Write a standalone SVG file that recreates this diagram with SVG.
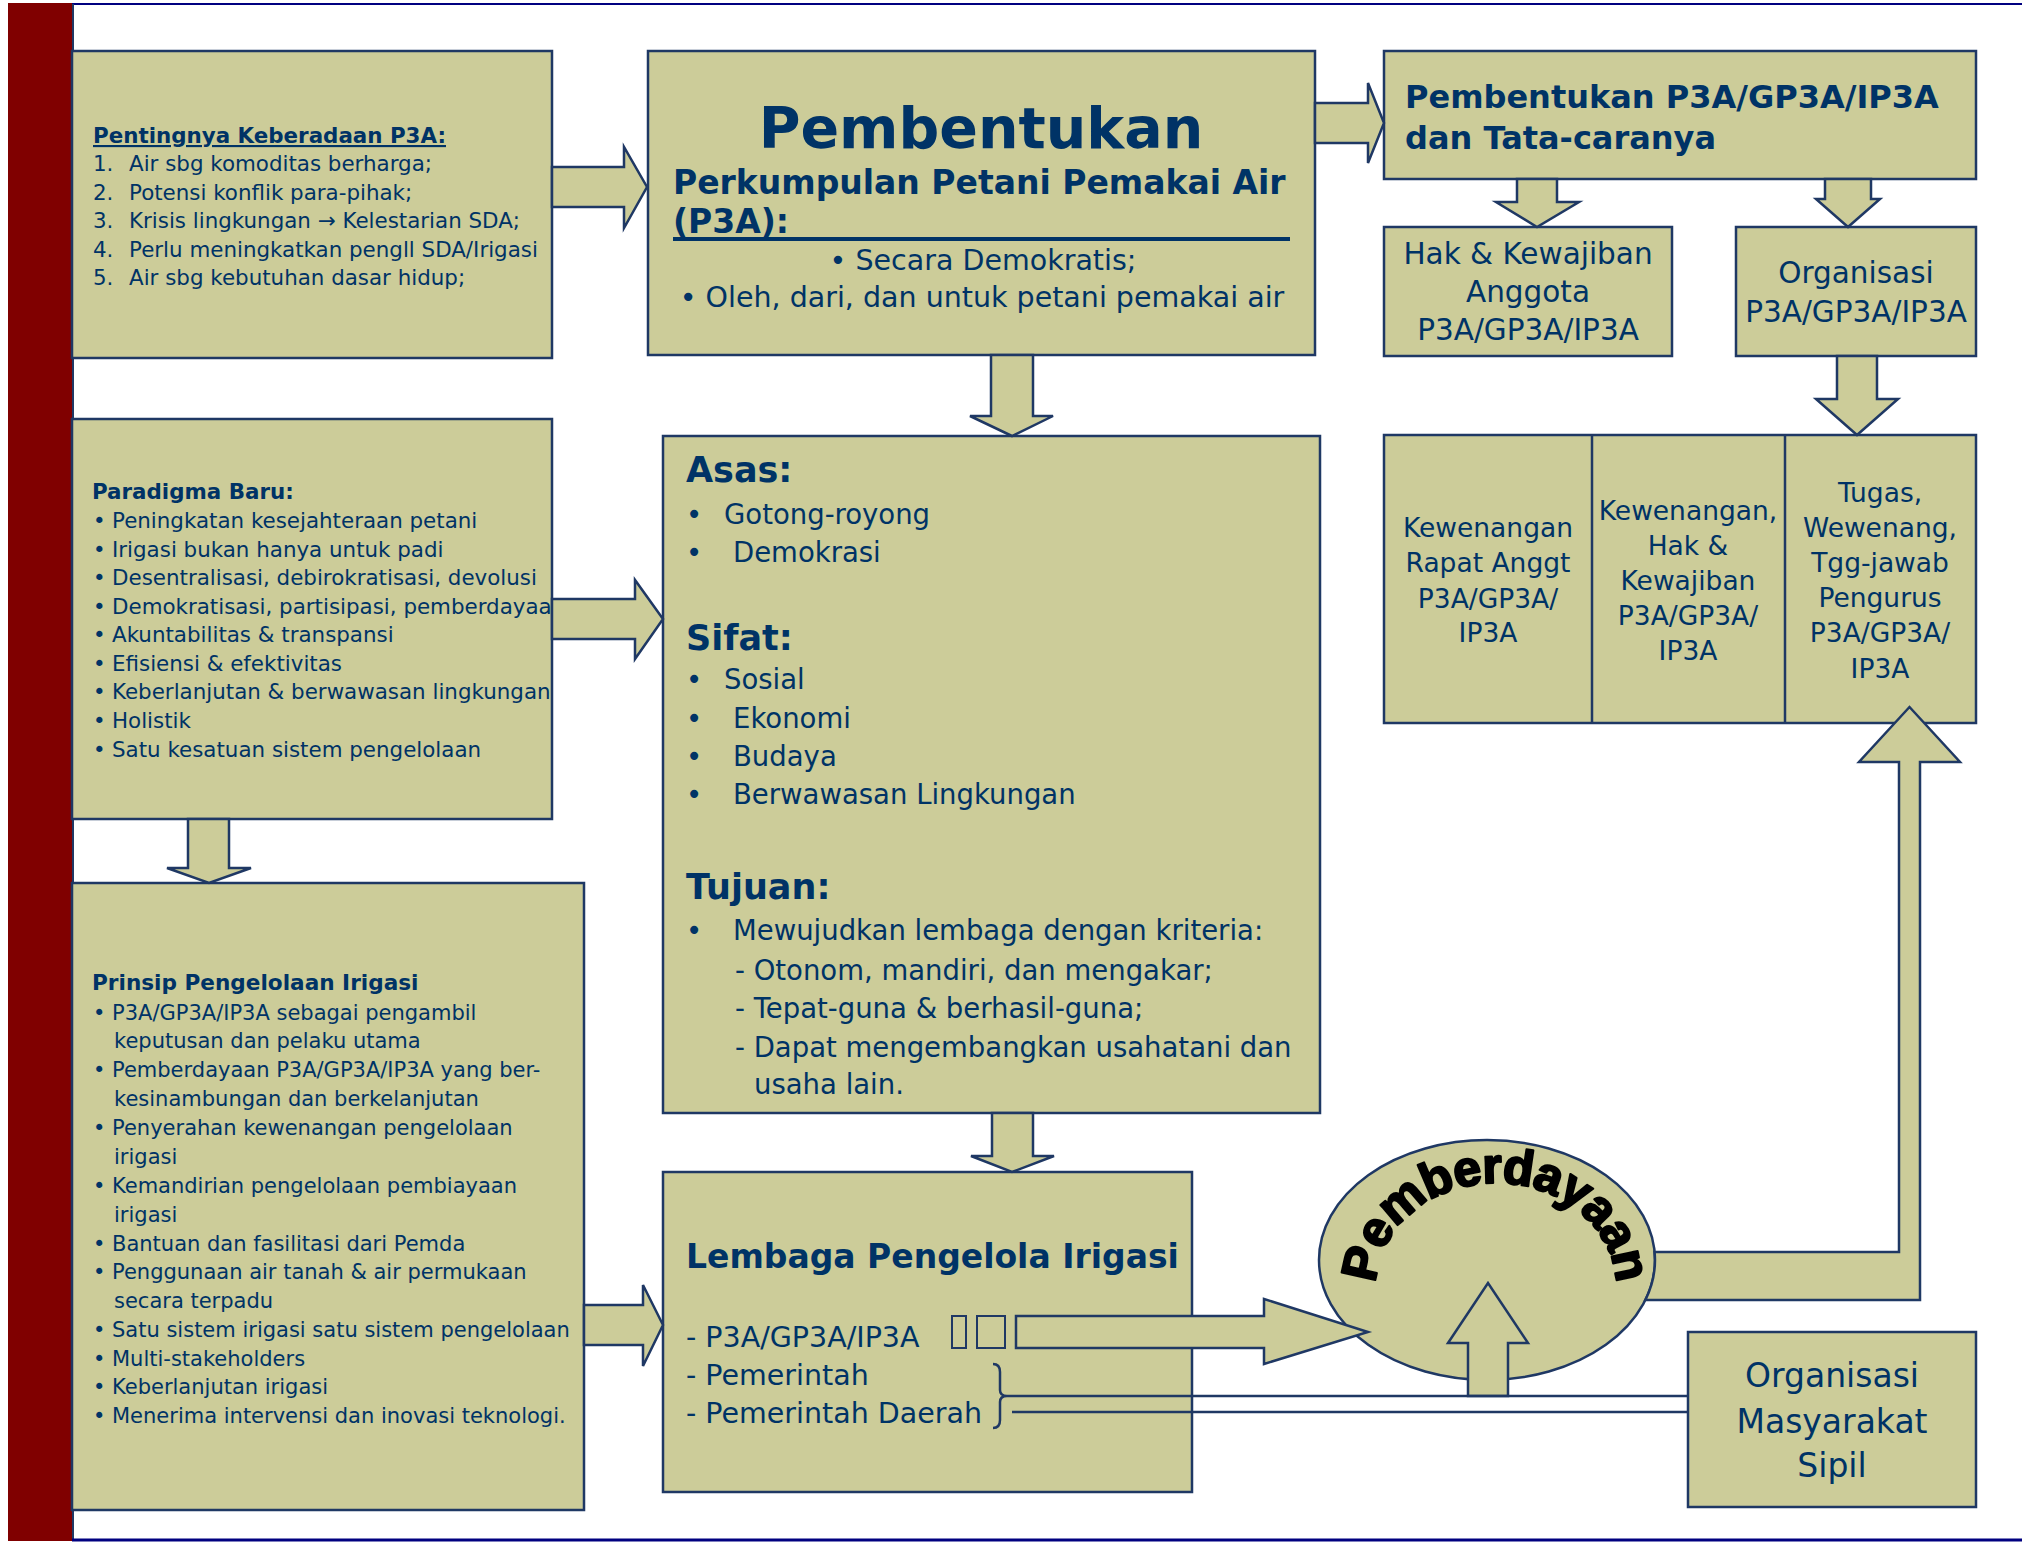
<svg xmlns="http://www.w3.org/2000/svg" width="2022" height="1543" viewBox="0 0 2022 1543">
<defs>
<style>
.box{fill:#CCCC99;stroke:#1F3864;stroke-width:2.5}
.arr{fill:#CCCC99;stroke:#1F3864;stroke-width:2.5;stroke-linejoin:miter}
.ln{fill:none;stroke:#1F3864;stroke-width:2.5}
text{font-family:"DejaVu Sans","Liberation Sans",sans-serif;fill:#003366}
.b{font-weight:bold}
.t21{font-size:21.4px}
.t20{font-size:21px}
.t28{font-size:27.5px}
.t28b{font-size:28.5px}
.t29{font-size:29.5px}
.t26{font-size:26.5px}
.t33{font-size:33px}
.m{text-anchor:middle}
</style>
</defs>
<rect x="0" y="0" width="2022" height="1543" fill="#FFFFFF"/>
<g id="frame">
<rect x="8" y="3" width="64" height="1538" fill="#800000"/>
<line x1="72" y1="4" x2="2022" y2="4" stroke="#000080" stroke-width="2"/>
<line x1="73" y1="4" x2="73" y2="1541" stroke="#1F3864" stroke-width="2"/>
<line x1="72" y1="1540" x2="2022" y2="1540" stroke="#000080" stroke-width="3"/>
</g>

<g id="node-pentingnya">
<rect class="box" x="72" y="51" width="480" height="307"/>
<text class="b t21" x="93" y="143" text-decoration="underline">Pentingnya Keberadaan P3A:</text>
<text class="t21" x="93" y="171">1.</text><text class="t21" x="129" y="171">Air sbg komoditas berharga;</text>
<text class="t21" x="93" y="199.5">2.</text><text class="t21" x="129" y="199.5">Potensi konflik para-pihak;</text>
<text class="t21" x="93" y="228">3.</text><text class="t21" x="129" y="228">Krisis lingkungan → Kelestarian SDA;</text>
<text class="t21" x="93" y="256.5">4.</text><text class="t21" x="129" y="256.5">Perlu meningkatkan pengll SDA/Irigasi</text>
<text class="t21" x="93" y="285">5.</text><text class="t21" x="129" y="285">Air sbg kebutuhan dasar hidup;</text>
</g>

<g id="node-pembentukan">
<rect class="box" x="648" y="51" width="667" height="304"/>
<text class="b m" x="981" y="148" style="font-size:57px">Pembentukan</text>
<text class="b t33" x="673" y="194">Perkumpulan Petani Pemakai Air</text>
<text class="b t33" x="673" y="233">(P3A):</text>
<rect x="673" y="237" width="617" height="4" fill="#003366"/>
<text class="m" x="983" y="270" style="font-size:28.5px">• Secara Demokratis;</text>
<text class="m" x="982" y="307" style="font-size:28.5px">• Oleh, dari, dan untuk petani pemakai air</text>
</g>

<g id="node-tatacara">
<rect class="box" x="1384" y="51" width="592" height="128"/>
<text class="b" x="1405" y="108" style="font-size:32px">Pembentukan P3A/GP3A/IP3A</text>
<text class="b" x="1405" y="149" style="font-size:32px">dan Tata-caranya</text>
</g>

<g id="node-hak">
<rect class="box" x="1384" y="227" width="288" height="129"/>
<text class="t29 m" x="1528" y="264">Hak &amp; Kewajiban</text>
<text class="t29 m" x="1528" y="302">Anggota</text>
<text class="t29 m" x="1528" y="340">P3A/GP3A/IP3A</text>
</g>

<g id="node-organisasi">
<rect class="box" x="1736" y="227" width="240" height="129"/>
<text class="t29 m" x="1856" y="283">Organisasi</text>
<text class="t29 m" x="1856" y="322">P3A/GP3A/IP3A</text>
</g>

<g id="node-kewenangan">
<rect class="box" x="1384" y="435" width="592" height="288"/>
<line class="ln" x1="1592" y1="435" x2="1592" y2="723"/>
<line class="ln" x1="1785" y1="435" x2="1785" y2="723"/>
<text class="t26 m" x="1488" y="537">Kewenangan</text>
<text class="t26 m" x="1488" y="572">Rapat Anggt</text>
<text class="t26 m" x="1488" y="608">P3A/GP3A/</text>
<text class="t26 m" x="1488" y="642">IP3A</text>
<text class="t26 m" x="1688" y="520">Kewenangan,</text>
<text class="t26 m" x="1688" y="555">Hak &amp;</text>
<text class="t26 m" x="1688" y="590">Kewajiban</text>
<text class="t26 m" x="1688" y="625">P3A/GP3A/</text>
<text class="t26 m" x="1688" y="660">IP3A</text>
<text class="t26 m" x="1880" y="502">Tugas,</text>
<text class="t26 m" x="1880" y="537">Wewenang,</text>
<text class="t26 m" x="1880" y="572">Tgg-jawab</text>
<text class="t26 m" x="1880" y="607">Pengurus</text>
<text class="t26 m" x="1880" y="642">P3A/GP3A/</text>
<text class="t26 m" x="1880" y="678">IP3A</text>
</g>

<g id="node-paradigma">
<rect class="box" x="72" y="419" width="480" height="400"/>
<text class="b t21" x="92" y="499">Paradigma Baru:</text>
<g class="t21">
<text x="93" y="528">•</text><text x="112" y="528">Peningkatan kesejahteraan petani</text>
<text x="93" y="557">•</text><text x="112" y="557">Irigasi bukan hanya untuk padi</text>
<text x="93" y="585">•</text><text x="112" y="585">Desentralisasi, debirokratisasi, devolusi</text>
<text x="93" y="614">•</text><text x="112" y="614">Demokratisasi, partisipasi, pemberdayaa</text>
<text x="93" y="642">•</text><text x="112" y="642">Akuntabilitas &amp; transpansi</text>
<text x="93" y="671">•</text><text x="112" y="671">Efisiensi &amp; efektivitas</text>
<text x="93" y="699">•</text><text x="112" y="699">Keberlanjutan &amp; berwawasan lingkungan</text>
<text x="93" y="728">•</text><text x="112" y="728">Holistik</text>
<text x="93" y="757">•</text><text x="112" y="757">Satu kesatuan sistem pengelolaan</text>
</g>
</g>

<g id="node-asas">
<rect class="box" x="663" y="436" width="657" height="677"/>
<text class="b" x="686" y="482" style="font-size:35px">Asas:</text>
<text class="t28" x="686" y="524">•</text><text class="t28" x="724" y="524">Gotong-royong</text>
<text class="t28" x="686" y="562">•</text><text class="t28" x="733" y="562">Demokrasi</text>
<text class="b" x="686" y="650" style="font-size:35px">Sifat:</text>
<text class="t28" x="686" y="689">•</text><text class="t28" x="724" y="689">Sosial</text>
<text class="t28" x="686" y="728">•</text><text class="t28" x="733" y="728">Ekonomi</text>
<text class="t28" x="686" y="766">•</text><text class="t28" x="733" y="766">Budaya</text>
<text class="t28" x="686" y="804">•</text><text class="t28" x="733" y="804">Berwawasan Lingkungan</text>
<text class="b" x="686" y="899" style="font-size:35px">Tujuan:</text>
<text class="t28" x="686" y="940">•</text><text class="t28" x="733" y="940">Mewujudkan lembaga dengan kriteria:</text>
<text class="t28" x="735" y="980">- Otonom, mandiri, dan mengakar;</text>
<text class="t28" x="735" y="1018">- Tepat-guna &amp; berhasil-guna;</text>
<text class="t28" x="735" y="1057">- Dapat mengembangkan usahatani dan</text>
<text class="t28" x="754" y="1094">usaha lain.</text>
</g>

<g id="node-prinsip">
<rect class="box" x="72" y="883" width="512" height="627"/>
<text class="b" x="92" y="990" style="font-size:21.6px">Prinsip Pengelolaan Irigasi</text>
<g class="t20">
<text x="93" y="1020">•</text><text x="112" y="1020">P3A/GP3A/IP3A sebagai pengambil</text>
<text x="114" y="1048">keputusan dan pelaku utama</text>
<text x="93" y="1077">•</text><text x="112" y="1077">Pemberdayaan P3A/GP3A/IP3A yang ber-</text>
<text x="114" y="1106">kesinambungan dan berkelanjutan</text>
<text x="93" y="1135">•</text><text x="112" y="1135">Penyerahan kewenangan pengelolaan</text>
<text x="114" y="1164">irigasi</text>
<text x="93" y="1193">•</text><text x="112" y="1193">Kemandirian pengelolaan pembiayaan</text>
<text x="114" y="1222">irigasi</text>
<text x="93" y="1251">•</text><text x="112" y="1251">Bantuan dan fasilitasi dari Pemda</text>
<text x="93" y="1279">•</text><text x="112" y="1279">Penggunaan air tanah &amp; air permukaan</text>
<text x="114" y="1308">secara terpadu</text>
<text x="93" y="1337">•</text><text x="112" y="1337">Satu sistem irigasi satu sistem pengelolaan</text>
<text x="93" y="1366">•</text><text x="112" y="1366">Multi-stakeholders</text>
<text x="93" y="1394">•</text><text x="112" y="1394">Keberlanjutan irigasi</text>
<text x="93" y="1423">•</text><text x="112" y="1423">Menerima intervensi dan inovasi teknologi.</text>
</g>
</g>

<g id="node-lembaga">
<rect class="box" x="663" y="1172" width="529" height="320"/>
<text class="b t33" x="686" y="1268">Lembaga Pengelola Irigasi</text>
<text class="t28b" x="686" y="1347">- P3A/GP3A/IP3A</text>
<rect x="952" y="1316" width="14" height="32" fill="none" stroke="#1F3864" stroke-width="2"/>
<rect x="977" y="1316" width="28" height="32" fill="none" stroke="#1F3864" stroke-width="2"/>
<text class="t28b" x="686" y="1385">- Pemerintah</text>
<text class="t28b" x="686" y="1423">- Pemerintah Daerah</text>
</g>

<g id="node-pemberdayaan">
<ellipse class="box" cx="1487" cy="1260" rx="168" ry="120"/>
<path id="arcP" d="M1376,1287 A120,104 0 0 1 1616,1287" fill="none"/>
<text style="font-family:'Liberation Sans',Arial,sans-serif;font-weight:900;font-size:50px;fill:#000000;stroke:#000000;stroke-width:2.2;stroke-linejoin:round" text-anchor="middle"><textPath href="#arcP" startOffset="50%" textLength="345">Pemberdayaan</textPath></text>
</g>

<g id="node-oms">
<rect class="box" x="1688" y="1332" width="288" height="175"/>
<text class="t33 m" x="1832" y="1387">Organisasi</text>
<text class="t33 m" x="1832" y="1433">Masyarakat</text>
<text class="t33 m" x="1832" y="1477">Sipil</text>
</g>

<g id="connectors">
<polygon class="arr" points="552,167 624,167 624,147 647,187 624,228 624,207 552,207"/>
<polygon class="arr" points="1315,103 1368,103 1368,83 1384,123 1368,163 1368,143 1315,143"/>
<polygon class="arr" points="991,355 1033,355 1033,416 1053,416 1012,436 970,416 991,416"/>
<polygon class="arr" points="552,599 635,599 635,580 663,619 635,659 635,639 552,639"/>
<polygon class="arr" points="188,819 229,819 229,868 251,868 209,883 167,868 188,868"/>
<polygon class="arr" points="584,1305 643,1305 643,1285 663,1325 643,1366 643,1345 584,1345"/>
<polygon class="arr" points="992,1113 1033,1113 1033,1156 1054,1156 1012,1172 971,1156 992,1156"/>
<polygon class="arr" points="1517,179 1557,179 1557,202 1579,202 1537,227 1496,202 1517,202"/>
<polygon class="arr" points="1825,179 1871,179 1871,199 1880,199 1848,227 1816,199 1825,199"/>
<polygon class="arr" points="1837,356 1877,356 1877,399 1898,399 1857,435 1816,399 1837,399"/>
<path class="arr" d="M1654.6,1252 L1899,1252 L1899,762 L1859,762 L1909.5,707 L1960,762 L1920,762 L1920,1300 L1645.4,1300 A168,120 0 0 0 1654.6,1252 Z"/>
<polygon class="arr" points="1016,1316 1264,1316 1264,1299 1368,1332 1264,1364 1264,1348 1016,1348"/>
<polygon class="arr" points="1468,1396 1468,1343 1448,1343 1488,1283 1528,1343 1508,1343 1508,1396"/>
<path class="ln" d="M993,1364 Q1000,1364 1000,1372 L1000,1390 Q1000,1396 1007,1396 Q1000,1396 1000,1402 L1000,1420 Q1000,1428 993,1428"/>
<line class="ln" x1="1007" y1="1396" x2="1688" y2="1396"/>
<line class="ln" x1="1012" y1="1412" x2="1688" y2="1412"/>
</g>
</svg>
